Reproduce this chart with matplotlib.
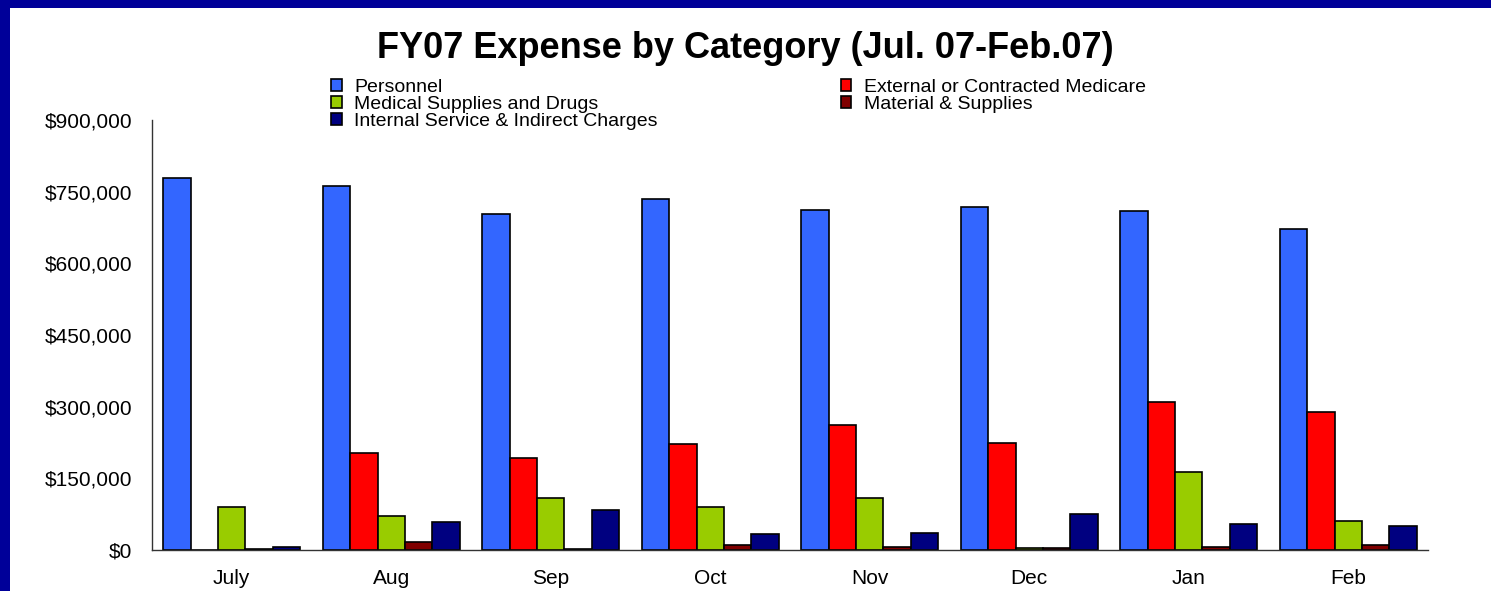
import numpy as np
import matplotlib.pyplot as plt
from matplotlib.patches import Rectangle
from matplotlib.ticker import FuncFormatter

plt.rcParams['font.family'] = ['Liberation Sans', 'DejaVu Sans']

months = ['July', 'Aug', 'Sep', 'Oct', 'Nov', 'Dec', 'Jan', 'Feb']
personnel = [778000, 761000, 703000, 734000, 711000, 718000, 709000, 671000]
external = [0, 203000, 192000, 222000, 262000, 224000, 310000, 289000]
medical = [90000, 71000, 109000, 90000, 109000, 5000, 163000, 61000]
material = [3000, 17000, 3000, 10000, 6000, 5000, 6000, 10000]
internal = [6000, 59000, 84000, 34000, 36000, 75000, 54000, 50000]

series = [
    ('Personnel', personnel, '#3366FF'),
    ('External or Contracted Medicare', external, '#FF0000'),
    ('Medical Supplies and Drugs', medical, '#99CC00'),
    ('Material & Supplies', material, '#800000'),
    ('Internal Service & Indirect Charges', internal, '#000080'),
]

fig = plt.figure(figsize=(14.91, 5.91), dpi=100)
fig.patch.set_facecolor('#000099')
# white panel inside the navy frame (frame only on top and left)
panel = Rectangle((10 / 1491, 0), 1, 1 - 8 / 591, transform=fig.transFigure,
                  facecolor='white', edgecolor='none', zorder=-10)
fig.add_artist(panel)

ax = fig.add_axes([152 / 1491, 41 / 591, (1428 - 152) / 1491, 430 / 591])
ax.set_facecolor('white')
ax.set_zorder(1)

x = np.arange(len(months))
w = 0.172
handles = {}
for i, (name, vals, col) in enumerate(series):
    b = ax.bar(x + (i - 2) * w, vals, w, color=col, edgecolor='black', linewidth=1.2,
               label=name)
    handles[name] = b

ax.set_xlim(-0.5, 7.5)
ax.set_ylim(0, 900000)
ax.set_yticks(np.arange(0, 900001, 150000))
ax.yaxis.set_major_formatter(FuncFormatter(lambda v, p: '${:,.0f}'.format(v)))
ax.set_xticks(x)
ax.set_xticklabels(months)
ax.tick_params(axis='y', length=0, pad=14, labelsize=15)
ax.tick_params(axis='x', length=0, pad=14, labelsize=15)
for s in ['top', 'right']:
    ax.spines[s].set_visible(False)
for s in ['left', 'bottom']:
    ax.spines[s].set_color('#333333')
    ax.spines[s].set_linewidth(1.0)

fig.text(745 / 1491, 1 - 48 / 591, 'FY07 Expense by Category (Jul. 07-Feb.07)',
         ha='center', va='center', fontsize=26, fontweight='bold')

order = ['Personnel', 'Medical Supplies and Drugs', 'Internal Service & Indirect Charges',
         'External or Contracted Medicare', 'Material & Supplies']
leg = fig.legend([handles[n] for n in order], order, ncol=2, loc='upper left',
                 bbox_to_anchor=(331 / 1491, 1 - 79 / 591), frameon=False, fontsize=14,
                 handlelength=0.55, handleheight=0.55, handletextpad=0.65,
                 labelspacing=0.0, columnspacing=9.4, borderpad=0, borderaxespad=0)
leg.set_zorder(5)

fig.savefig('out.png', dpi=100, facecolor=fig.get_facecolor())
